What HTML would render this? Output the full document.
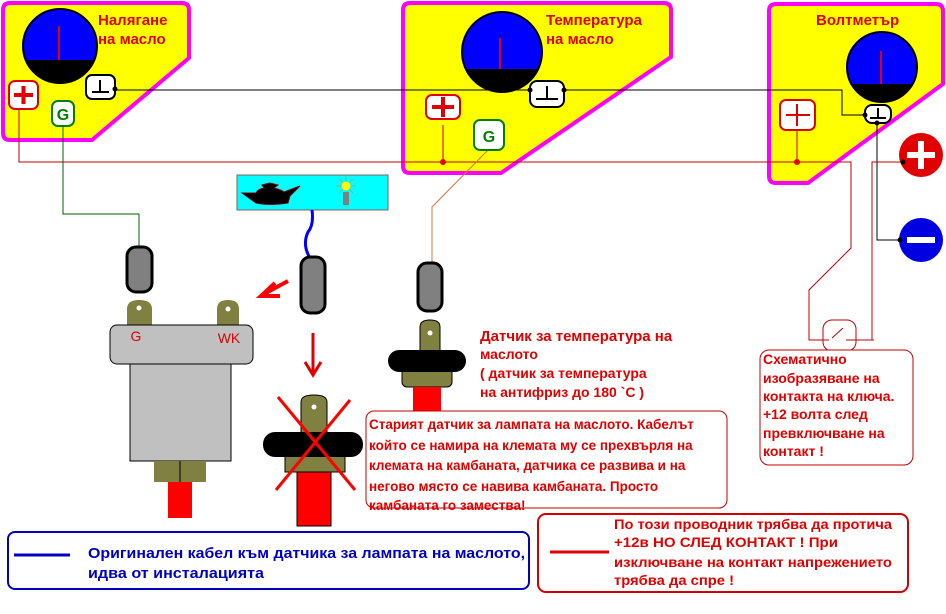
<!DOCTYPE html>
<html><head><meta charset="utf-8"><style>
html,body{margin:0;padding:0;background:#fff;}
svg{display:block;font-family:"Liberation Sans",sans-serif;}
.t{fill:#e00000;font-weight:bold;}
</style></head><body>
<svg width="946" height="614" viewBox="0 0 946 614" xmlns="http://www.w3.org/2000/svg">
<path d="M10,3 H182 Q189,3 189,10 V58 L92,140 H10 Q3,140 3,133 V10 Q3,3 10,3 Z" fill="#ffff00" stroke="#ff00ff" stroke-width="4"/>
<path d="M410,3 H664 Q671,3 671,10 V57 L501,173 H410 Q403,173 403,166 V10 Q403,3 410,3 Z" fill="#ffff00" stroke="#ff00ff" stroke-width="4"/>
<path d="M776,4 H936 Q943,4 943,11 V84 L808,183 H776 Q769,183 769,176 V11 Q769,4 776,4 Z" fill="#ffff00" stroke="#ff00ff" stroke-width="4"/>
<defs>
<clipPath id="c1"><circle cx="60" cy="46" r="37"/></clipPath>
<clipPath id="c2"><circle cx="502" cy="52" r="40"/></clipPath>
<clipPath id="c3"><circle cx="882" cy="67" r="35"/></clipPath>
</defs>
<g clip-path="url(#c1)"><rect x="20" y="5" width="80" height="80" fill="#0000ff"/><rect x="20" y="60" width="80" height="30" fill="#000"/></g>
<circle cx="60" cy="46" r="37" fill="none" stroke="#000" stroke-width="2"/>
<line x1="59" y1="26" x2="59" y2="60" stroke="#e00000" stroke-width="2"/>
<g clip-path="url(#c2)"><rect x="460" y="10" width="90" height="90" fill="#0000ff"/><rect x="460" y="69" width="90" height="30" fill="#000"/></g>
<circle cx="502" cy="52" r="40" fill="none" stroke="#000" stroke-width="2"/>
<line x1="500" y1="38" x2="500" y2="69" stroke="#e00000" stroke-width="2"/>
<g clip-path="url(#c3)"><rect x="845" y="30" width="75" height="75" fill="#0000ff"/><rect x="845" y="84" width="75" height="25" fill="#000"/></g>
<circle cx="882" cy="67" r="35" fill="none" stroke="#000" stroke-width="2"/>
<line x1="881" y1="51" x2="881" y2="84" stroke="#e00000" stroke-width="2"/>
<text class="t" x="98" y="25" font-size="15">Налягане</text>
<text class="t" x="98" y="44" font-size="15">на масло</text>
<text class="t" x="546" y="25" font-size="15">Температура</text>
<text class="t" x="546" y="44" font-size="15">на масло</text>
<text class="t" x="816" y="25" font-size="15">Волтметър</text>
<polyline points="115,90 842,90 842,115 865,115" fill="none" stroke="#000" stroke-width="1"/>
<polyline points="877,123 877,240 900,240" fill="none" stroke="#000" stroke-width="1"/>
<polyline points="19,109 19,162 851,162 851,248 809,290 809,340 829,340" fill="none" stroke="#c00000" stroke-width="1"/>
<polyline points="846,340 874,340" fill="none" stroke="#c00000" stroke-width="1"/>
<polyline points="872,340 872,162 903,162" fill="none" stroke="#c00000" stroke-width="1"/>
<line x1="443" y1="125" x2="443" y2="162" stroke="#c00000"/>
<line x1="797" y1="130" x2="797" y2="162" stroke="#c00000"/>
<circle cx="443" cy="162" r="3" fill="#e00000"/>
<circle cx="797" cy="162" r="3" fill="#e00000"/>
<rect x="823" y="320" width="33" height="31" rx="9" fill="none" stroke="#c00000"/>
<line x1="832" y1="338" x2="843" y2="328" stroke="#c00000"/>
<polyline points="63,126 63,214 139,214 139,247" fill="none" stroke="#006000" stroke-width="1"/>
<polyline points="490,148 432,207 432,263" fill="none" stroke="#e07040" stroke-width="1"/>
<rect x="9" y="81" width="29" height="28" rx="6" fill="#fff" stroke="#e00000" stroke-width="2"/>
<path d="M14,95 H33 M23.5,86 V104" stroke="#e00000" stroke-width="4"/>
<rect x="52" y="101" width="22" height="25" rx="6" fill="#fff" stroke="#008000" stroke-width="2"/>
<text x="63" y="120" font-size="16" font-weight="bold" fill="#008000" text-anchor="middle">G</text>
<rect x="86" y="75" width="29" height="24" rx="6" fill="#fff" stroke="#000" stroke-width="2"/>
<path d="M92,92 H109 M100,80 V92" stroke="#000" stroke-width="2"/>
<circle cx="115" cy="89" r="2.5"/>
<rect x="426" y="95" width="34" height="24" rx="6" fill="#fff" stroke="#e00000" stroke-width="2"/>
<path d="M432,107 H454 M443,97 V117" stroke="#e00000" stroke-width="4"/>
<rect x="474" y="120" width="30" height="30" rx="6" fill="#fff" stroke="#008000" stroke-width="2"/>
<text x="489" y="142" font-size="16" font-weight="bold" fill="#008000" text-anchor="middle">G</text>
<rect x="530" y="81" width="34" height="26" rx="7" fill="#fff" stroke="#000" stroke-width="2"/>
<path d="M536,99 H558 M547,86 V99" stroke="#000" stroke-width="2"/>
<circle cx="530" cy="90" r="2.5"/><circle cx="564" cy="90" r="2.5"/>
<rect x="780" y="100" width="35" height="30" rx="6" fill="#fff" stroke="#e00000" stroke-width="2"/>
<path d="M786,115 H810 M797,104 V126" stroke="#e00000" stroke-width="2"/>
<rect x="865" y="105" width="26" height="18" rx="7" fill="#fff" stroke="#000" stroke-width="2"/>
<path d="M870,118 H886 M878,108 V118" stroke="#000" stroke-width="2"/>
<circle cx="865" cy="115" r="2.5"/><circle cx="877" cy="123" r="2.5"/>
<circle cx="921" cy="155" r="22" fill="#e00000"/>
<path d="M907,155 H935 M921,141 V169" stroke="#fff" stroke-width="6"/>
<circle cx="903" cy="162" r="2.5"/>
<circle cx="921" cy="240" r="22" fill="#0000e0"/>
<path d="M907,240 H935" stroke="#fff" stroke-width="6"/>
<circle cx="900" cy="240" r="2.5"/>
<rect x="237" y="175" width="151" height="35" fill="#00ffff" stroke="#806060" stroke-width="1"/>
<path d="M242,193 L256,193 Q258,189 264,188 L262,185 L270,183 L278,185 L274,188 Q282,190 284,192 L300,186 L290,196 L288,203 Q270,206 256,203 Z" fill="#000" stroke="#800000"/>
<path d="M336,186 H356 M346,176 V196 M339,179 L353,193 M353,179 L339,193" stroke="#a0a060" stroke-width="0.7"/>
<circle cx="346" cy="186" r="4.5" fill="#ffff00"/>
<rect x="343" y="192" width="6" height="13" fill="#808080"/>
<path d="M312,210 Q314,225 308,232 Q302,245 310,258" fill="none" stroke="#0000ff" stroke-width="3"/>
<rect x="127" y="247" width="25" height="45" rx="9" fill="#808080" stroke="#000" stroke-width="3"/>
<rect x="301" y="257" width="24" height="56" rx="9" fill="#808080" stroke="#000" stroke-width="3"/>
<rect x="418" y="263" width="24" height="48" rx="9" fill="#808080" stroke="#000" stroke-width="3"/>
<path d="M127,330 V309 Q127,300 139,300 Q152,300 152,309 V330 Z" fill="#808040"/>
<circle cx="139" cy="308" r="2.5" fill="#fff"/>
<path d="M217,330 V309 Q217,300 228,300 Q239,300 239,309 V330 Z" fill="#808040"/>
<circle cx="228" cy="309" r="2.5" fill="#fff"/>
<rect x="110" y="325" width="143" height="39" rx="7" fill="#c0c0c0" stroke="#000"/>
<text x="136" y="341" font-size="14" fill="#e00000" text-anchor="middle">G</text>
<text x="229" y="343" font-size="14" fill="#e00000" text-anchor="middle">WK</text>
<rect x="130" y="364" width="101" height="97" fill="#c0c0c0" stroke="#000"/>
<rect x="154" y="461" width="52" height="21" fill="#808040"/>
<line x1="180" y1="461" x2="180" y2="482" stroke="#000"/>
<rect x="168" y="482" width="24" height="36" fill="#ff0000"/>
<path d="M288,281 L264,294" stroke="#ff0000" stroke-width="4"/>
<path d="M275,283 L261,296 L280,296" fill="none" stroke="#ff0000" stroke-width="4"/>
<path d="M313,333 V373" stroke="#e00000" stroke-width="3"/>
<path d="M305,362 L313,375 L321,362" fill="none" stroke="#e00000" stroke-width="3"/>
<path d="M301,437 V402 Q301,395 314,395 Q327,395 327,402 V437 Z" fill="#808040" stroke="#000"/>
<circle cx="314" cy="407" r="2.5" fill="#fff"/>
<rect x="285" y="455" width="60" height="17" fill="#808040" stroke="#000"/>
<rect x="263" y="432" width="100" height="25" rx="12" fill="#000"/>
<rect x="297" y="472" width="34" height="54" fill="#ff0000" stroke="#000"/>
<path d="M278,397 L355,490 M350,400 L276,490" stroke="#ff0000" stroke-width="3"/>
<path d="M420,352 V327 Q420,320 430,320 Q440,320 440,327 V352 Z" fill="#808040" stroke="#000"/>
<circle cx="430" cy="333" r="2.5" fill="#fff"/>
<rect x="402" y="368" width="50" height="19" rx="5" fill="#808040" stroke="#000"/>
<rect x="388" y="350" width="78" height="22" rx="11" fill="#000"/>
<rect x="413" y="387" width="28" height="31" fill="#ff0000"/>
<text class="t"><tspan x="480" y="341" font-size="15">Датчик за температура на</tspan><tspan x="480" y="359" font-size="14">маслото</tspan><tspan x="480" y="378" font-size="14">( датчик за температура</tspan><tspan x="480" y="397" font-size="14">на антифриз до 180 `C )</tspan></text>
<rect x="366" y="411" width="361" height="97" rx="8" fill="#fff" stroke="#c00000"/>
<text class="t" font-size="13.5"><tspan x="369" y="429">Старият датчик за лампата на маслото. Кабелът</tspan><tspan x="369" y="450">който се намира на клемата му се прехвърля на</tspan><tspan x="369" y="470">клемата на камбаната, датчика се развива и на</tspan><tspan x="369" y="491">негово място се навива камбаната. Просто</tspan><tspan x="369" y="510">камбаната го замества!</tspan></text>
<rect x="760" y="350" width="153" height="115" rx="9" fill="#fff" stroke="#c00000"/>
<text class="t" font-size="14"><tspan x="763" y="364">Схематично</tspan><tspan x="763" y="383">изобразяване на</tspan><tspan x="763" y="401">контакта на ключа.</tspan><tspan x="763" y="419">+12 волта след</tspan><tspan x="763" y="438">превключване на</tspan><tspan x="763" y="456">контакт !</tspan></text>
<rect x="8" y="532" width="521" height="57" rx="7" fill="#fff" stroke="#0000c0" stroke-width="2"/>
<line x1="14" y1="555" x2="70" y2="555" stroke="#0000c0" stroke-width="3"/>
<text font-size="15" font-weight="bold" fill="#0000c0"><tspan x="88" y="558" textLength="437" lengthAdjust="spacingAndGlyphs">Оригинален кабел към датчика за лампата на маслото,</tspan><tspan x="88" y="578" textLength="176" lengthAdjust="spacingAndGlyphs">идва от инсталацията</tspan></text>
<rect x="538" y="514" width="370" height="78" rx="8" fill="#fff" stroke="#d00000" stroke-width="2"/>
<line x1="550" y1="552" x2="609" y2="552" stroke="#e00000" stroke-width="3"/>
<text class="t" font-size="14"><tspan x="614" y="529" textLength="278" lengthAdjust="spacingAndGlyphs">По този проводник трябва да протича</tspan><tspan x="614" y="547" textLength="224" lengthAdjust="spacingAndGlyphs">+12в НО СЛЕД КОНТАКТ ! При</tspan><tspan x="614" y="567" textLength="278" lengthAdjust="spacingAndGlyphs">изключване на контакт напрежението</tspan><tspan x="614" y="585" textLength="120" lengthAdjust="spacingAndGlyphs">трябва да спре !</tspan></text>
</svg>
</body></html>
